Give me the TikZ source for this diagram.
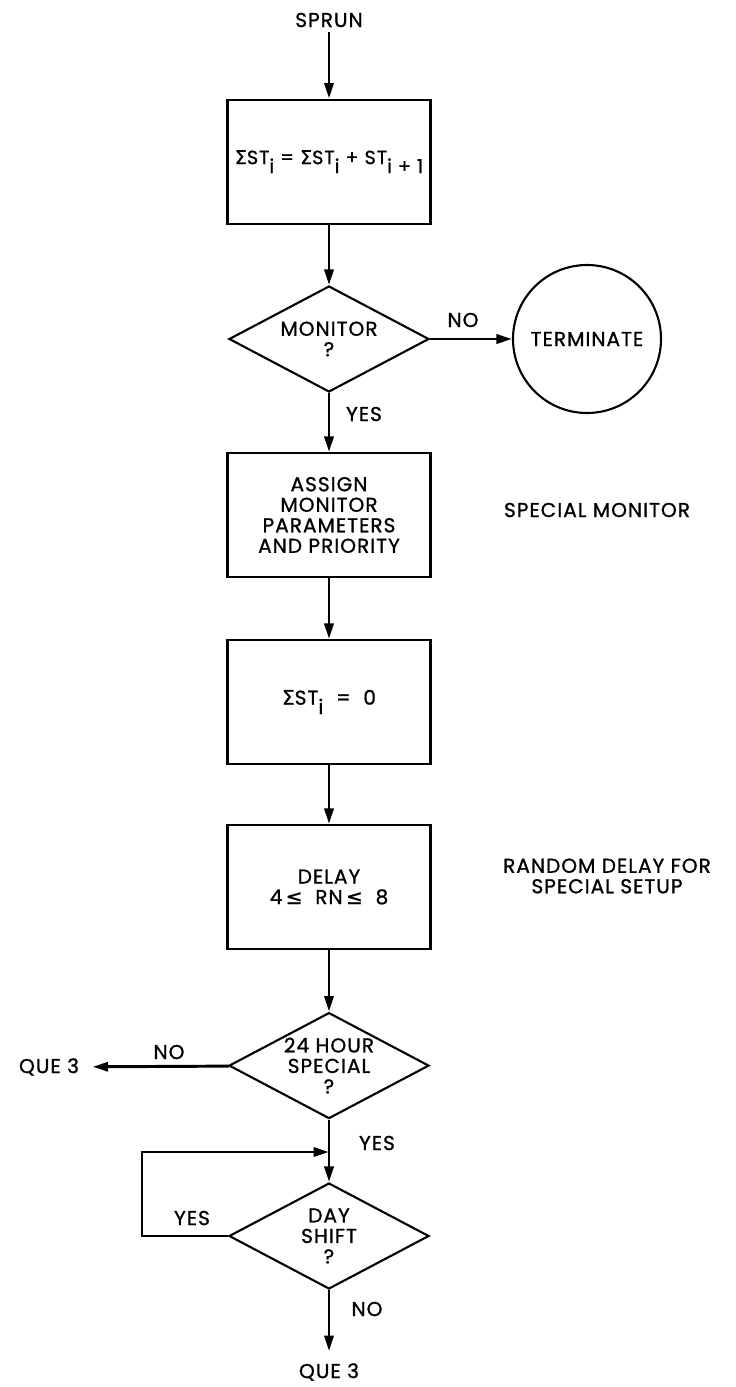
\documentclass[tikz,border=0pt]{standalone}
\usepackage{fontspec}
\setmainfont{Poppins}[FakeBold=1.0, LetterSpace=5]
\newfontfamily\symfont{DejaVu Sans}[FakeBold=1.0]
\usetikzlibrary{arrows.meta,positioning,shapes.geometric}
\newcommand{\chartfont}{\fontsize{14.3}{14.6}\selectfont}
\newcommand{\lowsub}[1]{\raisebox{-0.85ex}{#1}}
\newcommand{\sumST}{{\symfont Σ}ST}
\newcommand{\lesseq}{{\symfont ≤}}

\begin{document}
\begin{tikzpicture}[
    every node/.style={font=\chartfont},
    procbox/.style={draw, line width=1.5pt, minimum width=5.075cm, minimum height=3.1cm, align=center},
    decision/.style={draw, diamond, aspect=1.9, inner sep=0pt, minimum width=5cm, minimum height=2.65cm, line width=1.5pt, align=center},
    stopcircle/.style={draw, circle, minimum size=3.7cm, line width=1.5pt},
    arrow/.style={-{Triangle[length=11pt,width=6.5pt]}, line width=2.1pt}
  ]
    \useasboundingbox (0,0) rectangle (18.375,-34.675);

    % main column
    \node (sprun) at (8.225,-0.5) {SPRUN};
    \node[procbox, inner xsep=0pt, font=\fontsize{13.6}{14.6}\selectfont] (sum) at (8.225,-4.04) {\sumST\lowsub{i} = \sumST\lowsub{i} + ST\lowsub{i + 1}};
    \node[decision] (mon) at (8.225,-8.475) {MONITOR\\?};
    \node[stopcircle] (term) at (14.675,-8.475) {TERMINATE};
    \node[procbox] (assign) at (8.225,-12.875) {ASSIGN\\MONITOR\\PARAMETERS\\AND PRIORITY};
    \node[procbox] (reset) at (8.225,-17.55) {\sumST\lowsub{i} \ = \ 0};
    \node[procbox] (delay) at (8.225,-22.175) {DELAY\\4\,\lesseq\ \ RN\,\lesseq\ \ 8};
    \node[decision] (fullday) at (8.225,-26.64) {24 HOUR\\SPECIAL\\?};
    \node[decision] (dayshift) at (8.225,-30.9) {DAY\\SHIFT\\?};
    \node (queA) at (1.225,-26.675) {QUE 3};
    \node (queB) at (8.225,-34.3) {QUE 3};
    \coordinate (join) at (8.225,-28.8);
    \coordinate (loopc) at (3.55,-28.8);

    % notes
    \node (monnote) at (14.925,-12.75) {SPECIAL MONITOR};
    \node[align=center] (delaynote) at (15.175,-21.9) {RANDOM DELAY FOR\\SPECIAL SETUP};

    % branch labels
    \node (noA) at (11.575,-8.0) {NO};
    \node (yesA) at (9.1,-10.35) {YES};
    \node (noB) at (4.225,-26.3) {NO};
    \node (yesB) at (9.425,-28.575) {YES};
    \node (yesC) at (4.8,-30.45) {YES};
    \node (noC) at (9.175,-32.725) {NO};

    \draw[arrow] (sprun) -- (sum);
    \draw[arrow] (sum) -- (mon);
    \draw[arrow] (mon) -- (term);
    \draw[arrow] (mon) -- (assign);
    \draw[arrow] (assign) -- (reset);
    \draw[arrow] (reset) -- (delay);
    \draw[arrow] (delay) -- (fullday);
    \draw[arrow, shorten >=0.22cm] (fullday) -- (queA);
    \draw[arrow] (fullday) -- (dayshift);
    \draw[arrow] (dayshift.west) -| (loopc) -- (join);
    \draw[arrow, shorten >=0.18cm] (dayshift) -- (queB);
  \end{tikzpicture}
\end{document}
